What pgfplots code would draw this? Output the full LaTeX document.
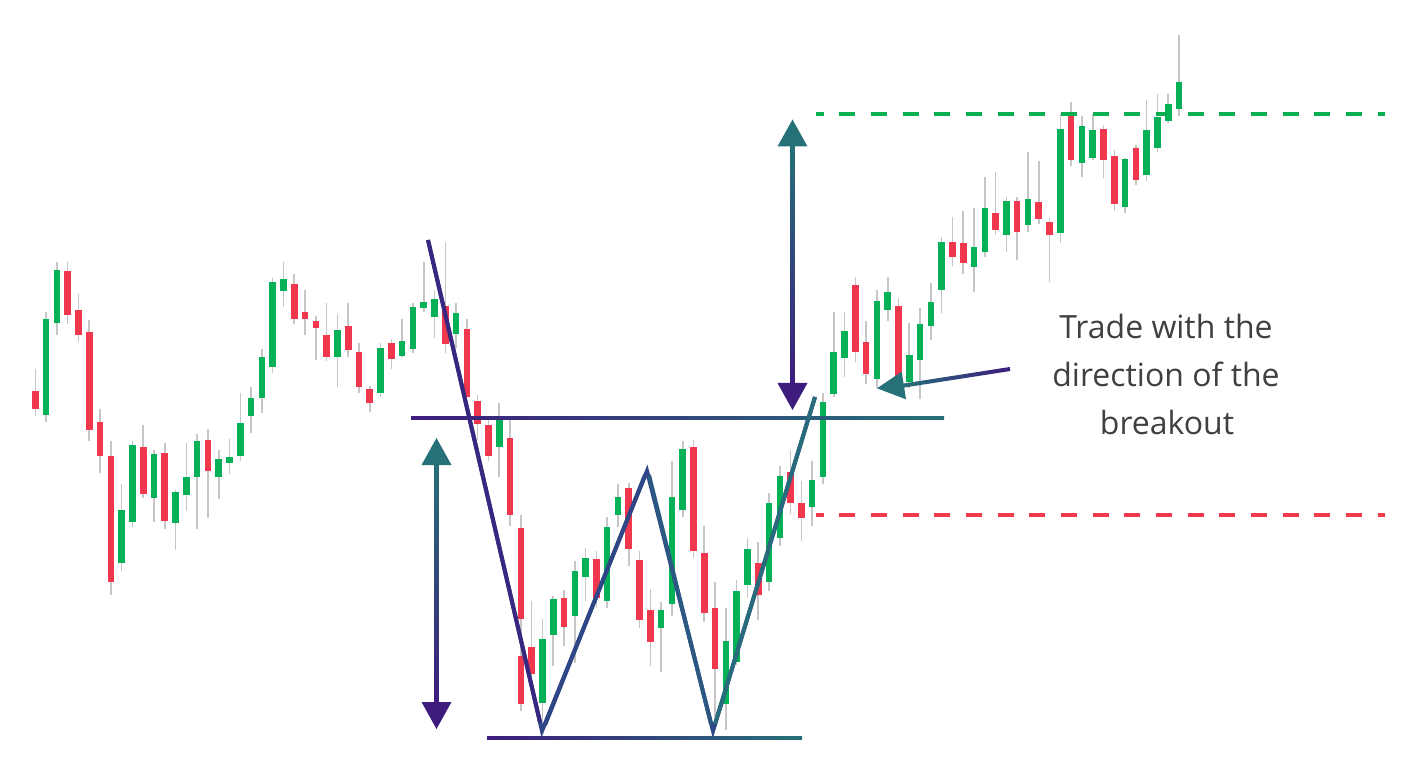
\documentclass[border=0pt]{standalone}
\usepackage{pgfplots}
\pgfplotsset{compat=1.18}
\usepackage{pgfplotstable}
\usepackage{fontspec}
\setmainfont{Open Sans}
\definecolor{cgreen}{HTML}{05B157}
\definecolor{cred}{HTML}{F1374D}
\definecolor{cwick}{HTML}{C6C6C6}
\definecolor{cpurple}{HTML}{3D1C7E}
\definecolor{cteal}{HTML}{267078}
\definecolor{seg1}{HTML}{382680}
\definecolor{seg2}{HTML}{2E4686}
\definecolor{seg3}{HTML}{2B5882}
\definecolor{seg4}{HTML}{286B7C}
\definecolor{ctext}{HTML}{404040}
\definecolor{dgreen}{HTML}{0AB050}
\definecolor{dred}{HTML}{F03A4C}

% up (green) candles: open = lower body edge, close = upper body edge (pixel rows, y reversed)
\pgfplotstableread{
i o h l c
1 414.7 312 421.7 319
2 323 261.7 335 270
8 563.3 484.3 570.7 509.7
9 522 441.3 527.3 445
11 497.7 450.3 522 453.7
13 522.7 490 550.3 492.3
14 495.3 443 511 477.3
15 477 434 529.3 441.3
17 477.3 450.3 498.7 459.3
18 462.7 439.3 474.3 456.7
19 455.7 393 461 423.3
20 416 387.3 433.3 398.3
21 397.7 349.3 413.3 357
22 367 278.3 372.7 281.7
23 290.7 261.7 306.7 279.3
28 356.7 313.7 386.7 330
32 392.7 342.7 396.7 348.3
34 356 319.3 356.7 340.7
35 349.3 303.3 352.7 306.7
36 308.3 261.7 311.7 302.3
37 317.3 290 338.3 299.3
39 334.5 303.3 348 313.5
43 446.7 403.3 477.3 419.5
47 702.5 619.3 725 639.3
48 635 596.5 666 599.3
50 615.7 560.7 662.7 571
51 577.3 547.7 600.7 557.7
53 600.7 517.3 608.3 526.7
54 515 484.3 527.5 497.3
58 628.3 601.7 671.7 610.3
59 604.3 461 615.7 497.3
60 510 441 516.7 449
64 704 607.7 730 641
65 662.3 580 665 590.7
66 585 538.3 598.3 549
68 582.3 493.3 590.7 503.3
69 538.3 466 546 475.7
72 507 461 525.7 480
73 476.7 392.7 484 402.3
74 394.3 311.7 396.7 351.7
75 357.7 311.7 376.7 331
78 379 290 388.3 300.7
79 310 277.3 320.7 292.3
81 381.7 322.7 388 355
82 360 308.3 399.3 324.3
83 326 283.3 340 302.3
84 290 236.7 313.3 241.7
87 266.7 208 292 247.3
88 252.3 177 257.3 207.7
90 235.3 197.3 252.3 201
92 225 152 232.3 199
95 232.7 113.3 243.3 129.3
97 163.3 116 176.7 126
98 157.7 114 160 130
101 207.3 158.3 212.7 159.3
103 175 100 180.7 130.3
104 147.7 94.3 151.7 116.7
105 120.7 94.3 122.7 104
106 108.7 35 115.7 82
}\up

% down (red) candles
\pgfplotstableread{
i o h l c
0 391 369.3 415.7 409
3 270.7 261.7 324 315.3
4 310 294 342.3 335
5 331.7 320.3 441 430.3
6 421.7 409 473.3 455.7
7 456.3 441.3 595.3 582
10 447 425 498.3 493.7
12 453 443 529.3 521
16 439.7 429 518.3 470.7
24 284 274.3 324 319.3
25 312 290 335 319
26 321 315.7 360 328
27 335.3 303.3 360.7 356.7
29 326.3 303.3 356.7 350
30 352.3 342.7 392.7 387.3
31 389.3 386 412.3 403.3
33 343.3 339.3 369.3 359
38 305.7 242.3 353.3 344.3
40 329 319.3 397 396.7
41 400.7 395 440 424.3
42 425 420 460.7 456
44 437.5 419.3 526 515
45 528.3 515 656 619.3
45 656 619.3 710.7 704
46 646.7 600.7 676.7 674.3
49 598.3 590.5 646 627.3
52 559.3 551 608.3 597.7
55 488.3 482.7 566 549
56 560 551 628.3 620.5
57 610 589 666 641.7
61 446.7 440 558.3 550.7
62 552.7 526 621.7 613.3
63 608.3 581.7 716.7 669.3
67 563.3 542.3 620 595
70 471.7 450 514 503.3
71 503.3 481 541 518
76 285 277.3 361.7 352.3
77 342.3 321 384 374
80 306 298.3 385 377
85 241.7 216.7 266 257.3
86 243.3 211.3 274 262.7
89 213 171.7 235 230
91 200.7 197.3 260 231.7
93 202.3 161 224.3 219.3
94 222.3 218.3 281.7 235.3
96 114 101.7 166 160.3
99 128.7 125 178.3 160
100 155.7 150 211 204
102 148.3 145 185 180
}\down

\begin{document}
\begin{tikzpicture}
\begin{axis}[
  width=1416bp, height=772bp, scale only axis,
  xmin=0, xmax=1416, ymin=0, ymax=772, y dir=reverse,
  hide axis, clip=false,
]
% wicks
\addplot[draw=none, error bars/.cd, y dir=both, y explicit, error mark=none,
  error bar style={draw=cwick, line width=1.6bp}]
  table[x expr=35.3+10.79*\thisrow{i}, y expr=(\thisrow{h}+\thisrow{l})/2, y error expr=(\thisrow{l}-\thisrow{h})/2] {\up};
\addplot[draw=none, error bars/.cd, y dir=both, y explicit, error mark=none,
  error bar style={draw=cwick, line width=1.6bp}]
  table[x expr=35.3+10.79*\thisrow{i}, y expr=(\thisrow{h}+\thisrow{l})/2, y error expr=(\thisrow{l}-\thisrow{h})/2] {\down};
% bodies
\addplot[draw=none, error bars/.cd, y dir=both, y explicit, error mark=none,
  error bar style={draw=cgreen, line width=6.6bp}]
  table[x expr=35.3+10.79*\thisrow{i}, y expr=(\thisrow{o}+\thisrow{c})/2, y error expr=abs(\thisrow{o}-\thisrow{c})/2] {\up};
\addplot[draw=none, error bars/.cd, y dir=both, y explicit, error mark=none,
  error bar style={draw=cred, line width=6.6bp}]
  table[x expr=35.3+10.79*\thisrow{i}, y expr=(\thisrow{o}+\thisrow{c})/2, y error expr=abs(\thisrow{o}-\thisrow{c})/2] {\down};

% target / stop levels
\addplot[dgreen, line width=3.3bp, dash pattern=on 16bp off 15.67bp, dash phase=8.3bp] coordinates {(816,114) (1385,114)};
\addplot[dred, line width=3.3bp, dash pattern=on 16bp off 15.67bp, dash phase=8.3bp] coordinates {(816,515) (1385,515)};

% neckline and bottom line
\addplot[draw=none, left color=cpurple, right color=cteal] coordinates {(411,416.3) (944,416.3) (944,419.7) (411,419.7)} -- cycle;
\addplot[draw=none, left color=cpurple, right color=cteal] coordinates {(487,736.5) (802,736.5) (802,739.7) (487,739.7)} -- cycle;

% W pattern
\addplot[seg2, line width=4bp, line join=miter] coordinates {(428,240) (542,731) (647,471) (713,731) (815,397)};
\addplot[seg1, line width=4bp] coordinates {(428,240) (540,722)};
\addplot[seg2, line width=4bp] coordinates {(545,725) (645,475)};
\addplot[seg3, line width=4bp] coordinates {(649,475) (711,724)};
\addplot[seg4, line width=4bp] coordinates {(715,724) (815,397)};

% left measuring arrow
\addplot[draw=none, top color=cteal, bottom color=cpurple] coordinates {(434.5,463) (438.5,463) (438.5,704) (434.5,704)} -- cycle;
\addplot[fill=cteal, draw=none] coordinates {(436.5,438) (451.5,465) (421.5,465)} -- cycle;
\addplot[fill=cpurple, draw=none] coordinates {(436.5,729) (451.5,702) (421.5,702)} -- cycle;
% right measuring arrow
\addplot[draw=none, top color=cteal, bottom color=cpurple] coordinates {(790.5,145) (794.5,145) (794.5,385) (790.5,385)} -- cycle;
\addplot[fill=cteal, draw=none] coordinates {(792.5,119.5) (807.5,146.5) (777.5,146.5)} -- cycle;
\addplot[fill=cpurple, draw=none] coordinates {(792.5,410) (807.5,383) (777.5,383)} -- cycle;
% diagonal arrow
\addplot[draw=none, left color=cteal, right color=cpurple] coordinates {(1010.3,371) (1009.7,367) (900.7,384) (901.3,388)} -- cycle;
\addplot[fill=cteal, draw=none] coordinates {(877,388.3) (901.7,371.7) (906,399.3)} -- cycle;

% annotation
\node[anchor=base, text=ctext, font=\fontsize{32bp}{38bp}\selectfont] at (axis cs:1166,338.3) {Trade with the};
\node[anchor=base, text=ctext, font=\fontsize{32bp}{38bp}\selectfont] at (axis cs:1166,386.7) {direction of the};
\node[anchor=base, text=ctext, font=\fontsize{32bp}{38bp}\selectfont] at (axis cs:1167,435) {breakout};
\end{axis}
\pgfresetboundingbox
\path[use as bounding box] (current axis.south west) rectangle (current axis.north east);
\end{tikzpicture}
\end{document}
